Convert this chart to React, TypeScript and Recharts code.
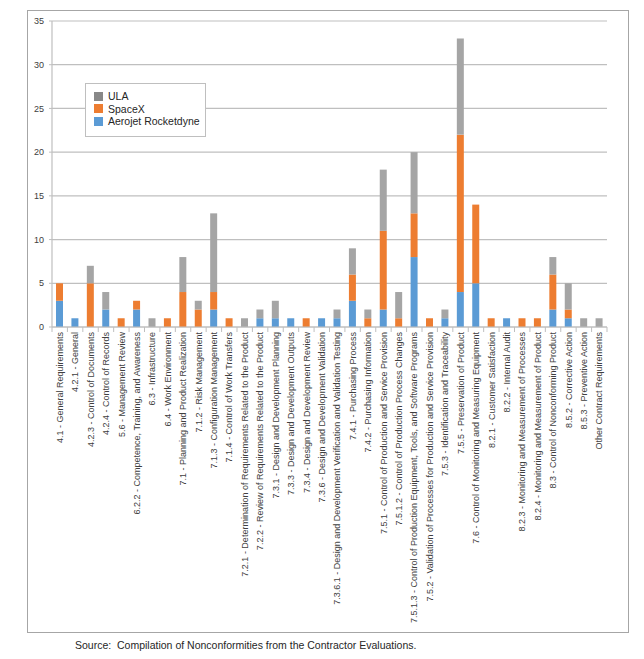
import { BarChart, Bar, XAxis, YAxis, CartesianGrid } from 'recharts';

const categories = [
  '4.1 - General Requirements',
  '4.2.1 - General',
  '4.2.3 - Control of Documents',
  '4.2.4 - Control of Records',
  '5.6 - Management Review',
  '6.2.2 - Competence, Training, and Awareness',
  '6.3 - Infrastructure',
  '6.4 - Work Environment',
  '7.1 - Planning and Product Realization',
  '7.1.2 - Risk Management',
  '7.1.3 - Configuration Management',
  '7.1.4 - Control of Work Transfers',
  '7.2.1 - Determination of Requirements Related to the Product',
  '7.2.2 - Review of Requirements Related to the Product',
  '7.3.1 - Design and Development Planning',
  '7.3.3 - Design and Development Outputs',
  '7.3.4 - Design and Development Review',
  '7.3.6 - Design and Development Validation',
  '7.3.6.1 - Design and Development Verification and Validation Testing',
  '7.4.1 - Purchasing Process',
  '7.4.2 - Purchasing Information',
  '7.5.1 - Control of Production and Service Provision',
  '7.5.1.2 - Control of Production Process Changes',
  '7.5.1.3 - Control of Production Equipment, Tools, and Software Programs',
  '7.5.2 - Validation of Processes for Production and Service Provision',
  '7.5.3 - Identification and Traceability',
  '7.5.5 - Preservation of Product',
  '7.6 - Control of Monitoring and Measuring Equipment',
  '8.2.1 - Customer Satisfaction',
  '8.2.2 - Internal Audit',
  '8.2.3 - Monitoring and Measurement of Processes',
  '8.2.4 - Monitoring and Measurement of Product',
  '8.3 - Control of Nonconforming Product',
  '8.5.2 - Corrective Action',
  '8.5.3 - Preventive Action',
  'Other Contract Requirements',
];

const aerojet = [3, 1, 0, 2, 0, 2, 0, 0, 0, 0, 2, 0, 0, 1, 1, 1, 0, 1, 1, 3, 0, 2, 0, 8, 0, 1, 4, 5, 0, 1, 0, 0, 2, 1, 0, 0];
const spacex = [2, 0, 5, 0, 1, 1, 0, 1, 4, 2, 2, 1, 0, 0, 0, 0, 1, 0, 0, 3, 1, 9, 1, 5, 1, 0, 18, 9, 1, 0, 1, 1, 4, 1, 0, 0];
const ula = [0, 0, 2, 2, 0, 0, 1, 0, 4, 1, 9, 0, 1, 1, 2, 0, 0, 0, 1, 3, 1, 7, 3, 7, 0, 1, 11, 0, 0, 0, 0, 0, 2, 3, 1, 1];

const yTicks = [0, 5, 10, 15, 20, 25, 30, 35];

const legendItems = [
  { label: 'ULA', color: '#888888' },
  { label: 'SpaceX', color: '#ED7D31' },
  { label: 'Aerojet Rocketdyne', color: '#5B9BD5' },
];

const data = categories.map((name, i) => ({ name, aerojet: aerojet[i], spacex: spacex[i], ula: ula[i] }));

const W = 602;
const H = 623;
const margin = { top: 11, right: 22, left: 0, bottom: 0 };
const yAxisW = 25;
const band = (W - margin.left - margin.right - yAxisW) / categories.length;
const font = '"Liberation Sans", Arial, sans-serif';

function CatTick(props: any) {
  const { x, y, payload, index } = props;
  return (
    <g>
      <line x1={x - band / 2} x2={x - band / 2} y1={y} y2={y + 5} stroke="#BFBFBF" />
      {index === categories.length - 1 && (
        <line x1={x + band / 2} x2={x + band / 2} y1={y} y2={y + 5} stroke="#BFBFBF" />
      )}
      <text
        transform={`translate(${x},${y + 5}) rotate(-90)`}
        textAnchor="end"
        dy="0.35em"
        fontSize={9}
        fill="#404040"
        fontFamily={font}
      >
        {payload.value}
      </text>
    </g>
  );
}

export default function App() {
  return (
    <div style={{ position: 'absolute', left: 0, top: 0, width: 644, height: 659, background: '#fff' }}>
      <div
        style={{
          position: 'absolute',
          left: 27,
          top: 10,
          width: W,
          height: H,
          border: '1px solid #A6A6A6',
          boxSizing: 'border-box',
        }}
      />
      <div style={{ position: 'absolute', left: 27, top: 10 }}>
        <BarChart width={W} height={H} data={data} margin={margin} barSize={7}>
          <CartesianGrid vertical={false} stroke="#BFBFBF" strokeWidth={1.2} />
          <XAxis
            dataKey="name"
            interval={0}
            height={H - margin.top - 306}
            tickSize={0}
            tickMargin={0}
            tickLine={false}
            axisLine={{ stroke: '#BFBFBF', strokeWidth: 1.2 }}
            tick={<CatTick />}
          />
          <YAxis
            width={yAxisW}
            domain={[0, 35]}
            ticks={yTicks}
            interval={0}
            tickSize={3}
            tickMargin={5}
            tickLine={{ stroke: '#BFBFBF' }}
            axisLine={{ stroke: '#BFBFBF', strokeWidth: 1.2 }}
            tick={{ fontSize: 9, fill: '#404040', fontFamily: font }}
          />
          <Bar dataKey="aerojet" stackId="a" fill="#5B9BD5" isAnimationActive={false} />
          <Bar dataKey="spacex" stackId="a" fill="#ED7D31" isAnimationActive={false} />
          <Bar dataKey="ula" stackId="a" fill="#A5A5A5" isAnimationActive={false} />
        </BarChart>
      </div>
      <div
        style={{
          position: 'absolute',
          left: 85,
          top: 83,
          width: 119,
          height: 46,
          border: '1px solid #BFBFBF',
          background: '#fff',
          paddingTop: 6,
          fontFamily: font,
          fontSize: 10.5,
          color: '#262626',
        }}
      >
        {legendItems.map((it) => (
          <div key={it.label} style={{ display: 'flex', alignItems: 'center', height: 12.5, paddingLeft: 8 }}>
            <span style={{ width: 9, height: 9, background: it.color, display: 'inline-block', marginRight: 5 }} />
            <span>{it.label}</span>
          </div>
        ))}
      </div>
      <div
        style={{
          position: 'absolute',
          left: 75,
          top: 639,
          fontFamily: font,
          fontSize: 10.5,
          color: '#262626',
          whiteSpace: 'pre',
        }}
      >
        {'Source:  Compilation of Nonconformities from the Contractor Evaluations.'}
      </div>
    </div>
  );
}
